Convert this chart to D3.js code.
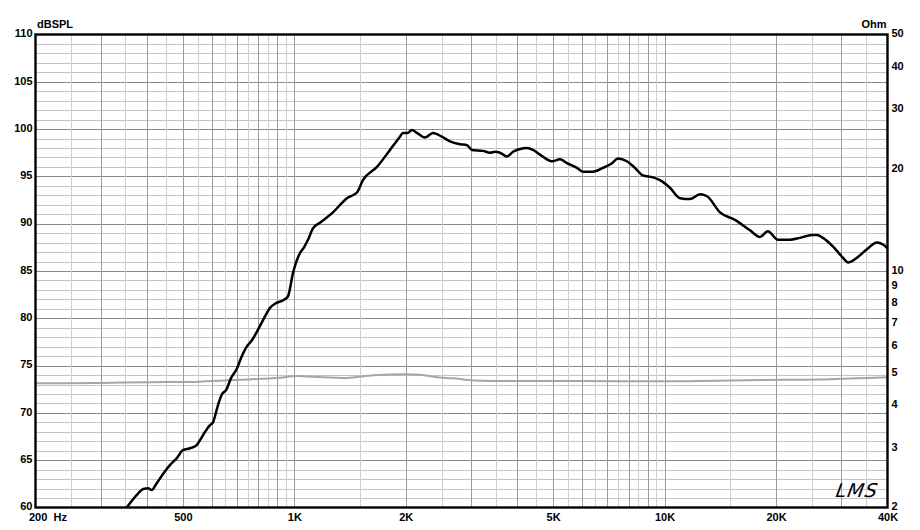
<!DOCTYPE html>
<html><head><meta charset="utf-8">
<script src="https://cdn.jsdelivr.net/npm/d3@7"></script>
<style>
html,body{margin:0;padding:0;background:#fff;}
svg text{font-family:"Liberation Sans",Arial,sans-serif;font-weight:bold;font-size:11px;fill:#000;}
</style></head>
<body>
<svg id="chart" width="920" height="530"></svg>
<script>
// ---- data ----
const splFreq = [352.6,379,391,403,412,425,443,462,481,501,523,545,556,574,592,603,622,638,654,675,700,718,741,769,798,828,860,892,932,961,992,1036,1062,1089,1123,1173,1272,1387,1476,1532,1672,1813,1929,1965,2027,2078,2144,2254,2368,2504,2632,2802,2926,3018,3233,3376,3483,3594,3754,3896,4070,4250,4412,4608,4812,4965,5218,5450,5800,6020,6406,6816,7210,7482,7912,8316,8740,9302,9716,10338,11002,11710,12462,13018,14112,15490,17006,18092,19016,20236,21800,23200,25000,25800,26780,28480,30320,31280,33080,35200,37460,38880,40000];
const splDb = [60.0,61.5,61.96,62.03,61.85,62.56,63.6,64.5,65.2,66.08,66.26,66.6,67.1,68.0,68.7,69.0,70.8,72.0,72.4,73.7,74.7,75.8,76.9,77.7,78.8,80.0,81.1,81.6,81.9,82.3,84.8,86.9,87.5,88.3,89.5,90.1,91.2,92.7,93.3,94.6,96.0,97.8,99.2,99.6,99.6,99.9,99.6,99.1,99.6,99.2,98.7,98.4,98.3,97.8,97.7,97.5,97.6,97.5,97.1,97.6,97.9,98.0,97.8,97.3,96.8,96.6,96.8,96.4,95.9,95.5,95.5,95.9,96.4,96.9,96.6,95.9,95.1,94.9,94.6,93.8,92.7,92.6,93.1,92.9,91.2,90.4,89.3,88.6,89.2,88.3,88.3,88.5,88.8,88.8,88.5,87.6,86.4,85.9,86.4,87.3,88.0,87.8,87.4];
const impFreq = [200,299,408,556,713,915,1014,1120,1385,1634,2011,2185,2424,2683,3044,3896,5908,9128,12462,18092,26280,33080,40000];
const impOhm = [4.66,4.67,4.69,4.71,4.77,4.84,4.89,4.87,4.83,4.92,4.95,4.94,4.85,4.82,4.75,4.73,4.73,4.72,4.73,4.76,4.78,4.82,4.85];
const xTicks = [200,500,1000,2000,5000,10000,20000,40000];
const xTickLabels = ["200  Hz","500","1K","2K","5K","10K","20K","40K"];
const dbTicks = [60,65,70,75,80,85,90,95,100,105,110];
const ohmTicks = [2,3,4,5,6,7,8,9,10,20,30,40,50];

// ---- layout ----
const L = 35.5, R = 887.5, T = 34.5, B = 507.5;
const svg = d3.select("#chart");
const x = d3.scaleLog().domain([200,40000]).range([L,R]);
const y = d3.scaleLinear().domain([60,110]).range([B,T]);
const yOhm = d3.scaleLog().domain([2,50]).range([B,T]);

// grid
const gridV = [];
[100,1000,10000].forEach(d=>{ for(let m=1;m<10;m+=0.5){ const f=m*d; if(f>200&&f<40000) gridV.push({f, major: m%1===0}); } });
const gridH = d3.range(61,110).map(v=>({v, major: v%5===0}));
const g = svg.append("g");
g.selectAll("line.h").data(gridH).join("line")
  .attr("x1",L).attr("x2",R).attr("y1",d=>Math.round(y(d.v))+0.5).attr("y2",d=>Math.round(y(d.v))+0.5)
  .attr("stroke",d=>d.major?"#888":"#c4c4c4").attr("stroke-width",1);
g.selectAll("line.v").data(gridV).join("line")
  .attr("y1",T).attr("y2",B).attr("x1",d=>Math.round(x(d.f))+0.5).attr("x2",d=>Math.round(x(d.f))+0.5)
  .attr("stroke",d=>d.major?"#9a9a9a":"#cfcfcf").attr("stroke-width",1);

// clip
svg.append("clipPath").attr("id","clip").append("rect").attr("x",L).attr("y",T).attr("width",R-L).attr("height",B-T);

// impedance
const impData = impFreq.map((f,i)=>[f,impOhm[i]]);
svg.append("path").datum(impData).attr("clip-path","url(#clip)")
  .attr("fill","none").attr("stroke","#a6a6a6").attr("stroke-width",2)
  .attr("d",d3.line().x(d=>x(d[0])).y(d=>yOhm(d[1])).curve(d3.curveMonotoneX));

// SPL
const splData = splFreq.map((f,i)=>[f,splDb[i]]);
svg.append("path").datum(splData).attr("clip-path","url(#clip)")
  .attr("fill","none").attr("stroke","#000").attr("stroke-width",2.5).attr("stroke-linejoin","round")
  .attr("d",d3.line().x(d=>x(d[0])).y(d=>y(d[1])).curve(d3.curveMonotoneX));

// frame
svg.append("rect").attr("x",L).attr("y",T).attr("width",R-L).attr("height",B-T)
  .attr("fill","none").attr("stroke","#000").attr("stroke-width",2.4);

// axes
const ax = svg.append("g").attr("transform",`translate(0,${B})`)
  .call(d3.axisBottom(x).tickValues(xTicks).tickFormat((d,i)=>xTickLabels[i]).tickSize(0).tickPadding(6));
ax.select(".domain").remove();
ax.selectAll("text").attr("font-family",null).attr("font-size",null).attr("dy","0.71em").style("white-space","pre");
ax.selectAll(".tick").filter((d,i)=>i===0).select("text").attr("text-anchor","start").attr("x",-7);

const ayL = svg.append("g").attr("transform",`translate(${L-3},0)`)
  .call(d3.axisLeft(y).tickValues(dbTicks).tickFormat(d3.format("d")).tickSize(0).tickPadding(0));
ayL.select(".domain").remove();
ayL.selectAll("text").attr("font-family",null).attr("font-size",null).attr("dy","0.2em");

const ayR = svg.append("g").attr("transform",`translate(${R+4},0)`)
  .call(d3.axisRight(yOhm).tickValues(ohmTicks).tickFormat(d3.format("d")).tickSize(0).tickPadding(0));
ayR.select(".domain").remove();
ayR.selectAll("text").attr("font-family",null).attr("font-size",null).attr("dy","0.2em");

svg.append("text").attr("x",37).attr("y",28).text("dBSPL");
svg.append("text").attr("x",R-1).attr("y",28).attr("text-anchor","end").text("Ohm");

// LMS mark (skew shifts x by -y*tan(10deg))
const lmsX = 877, lmsY = 497;
svg.append("text").attr("x",lmsX + lmsY*Math.tan(10*Math.PI/180)).attr("y",lmsY).attr("text-anchor","end")
  .style("font-family","'DejaVu Sans',sans-serif").style("font-style","italic").style("font-weight","normal")
  .style("font-size","19px").style("letter-spacing","1px").attr("transform","skewX(-10)").text("LMS");
</script>
</body></html>
